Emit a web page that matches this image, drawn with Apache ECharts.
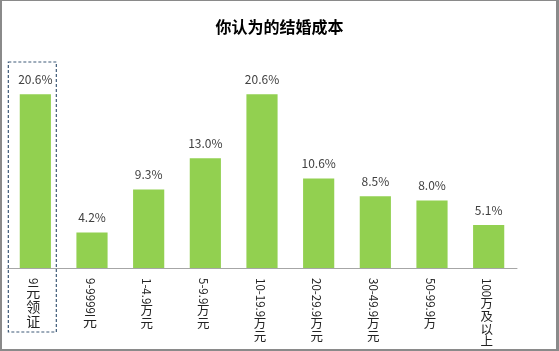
<!DOCTYPE html>
<html>
<head>
<meta charset="utf-8">
<script src="https://cdn.jsdelivr.net/npm/echarts@6/dist/echarts.min.js"></script>
<style>
html,body{margin:0;padding:0;background:#fff;}
#chart{position:absolute;left:0;top:0;width:559px;height:351px;}
#frame{position:absolute;left:0;top:0;width:559px;height:351px;box-sizing:border-box;border:2px solid #8a8a8a;border-top-width:1px;border-right-width:3px;border-bottom-width:2px;pointer-events:none;}
</style>
</head>
<body>
<div id="chart"></div>
<div id="frame"></div>
<script>
var titleText = '你认为的结婚成本';
var categories = ['9元领证', '9-9999元', '1-4.9万元', '5-9.9万元', '10-19.9万元', '20-29.9万元', '30-49.9万元', '50-99.9万', '100万及以上'];
var values = [20.6, 4.2, 9.3, 13.0, 20.6, 10.6, 8.5, 8.0, 5.1];

var FONT = '"Microsoft YaHei","Noto Sans CJK SC",sans-serif';
var chart = echarts.init(document.getElementById('chart'));
chart.setOption({
  animation: false,
  backgroundColor: '#fff',
  title: {
    text: titleText, left: 'center', top: 14,
    textStyle: {fontSize: 16, fontWeight: 'bold', color: '#000', fontFamily: FONT}
  },
  grid: {left: 7, right: 42, top: 57, bottom: 83},
  xAxis: {
    type: 'category', data: categories,
    axisLine: {lineStyle: {color: '#a6a6a6', width: 1}},
    axisTick: {show: false},
    axisLabel: {show: false}
  },
  yAxis: {type: 'value', min: 0, max: 25, show: false, splitLine: {show: false}},
  series: [{
    type: 'bar', data: values, barWidth: '55%',
    itemStyle: {color: '#92D050'},
    label: {
      show: true, position: 'top', distance: 9,
      formatter: function (p) { return p.value.toFixed(1) + '%'; },
      fontSize: 12, color: '#404040', fontFamily: FONT
    }
  }]
});

// vertical (tategaki-style) category labels: Latin runs rotated, CJK upright
var canvas = document.createElement('canvas');
var ctx = canvas.getContext('2d');
var LFS = 11.5;
ctx.font = LFS + 'px ' + FONT;
var gfx = [];
categories.forEach(function (cat, i) {
  var x = chart.convertToPixel({xAxisIndex: 0}, i) - 2;
  var y = 278;
  var cjkSize = i < 2 ? 14 : 12.5;
  var cjkStep = i < 2 ? 15 : 12.7;
  var runs = cat.match(/[\x00-\x7f]+|[^\x00-\x7f]/g);
  runs.forEach(function (r) {
    if (/^[\x00-\x7f]+$/.test(r)) {
      gfx.push({type: 'text', x: x, y: y, rotation: -Math.PI / 2,
        style: {text: r, x: 0, y: 0, align: 'left', verticalAlign: 'middle', fontSize: LFS, fontFamily: FONT, fill: '#222'}});
      y += ctx.measureText(r).width;
    } else {
      gfx.push({type: 'text', x: x, y: y,
        style: {text: r, x: 0, y: 0, align: 'center', verticalAlign: 'top', fontSize: cjkSize, fontFamily: FONT, fill: '#222'}});
      y += cjkStep;
    }
  });
});
// dashed highlight box around first category
var x0 = chart.convertToPixel({xAxisIndex: 0}, 0);
gfx.push({type: 'rect', shape: {x: x0 - 27, y: 62, width: 48, height: 270},
  style: {fill: 'none', stroke: '#3f5a78', lineWidth: 1.2, lineDash: [3, 2]}});
chart.setOption({graphic: gfx});
</script>
</body>
</html>
